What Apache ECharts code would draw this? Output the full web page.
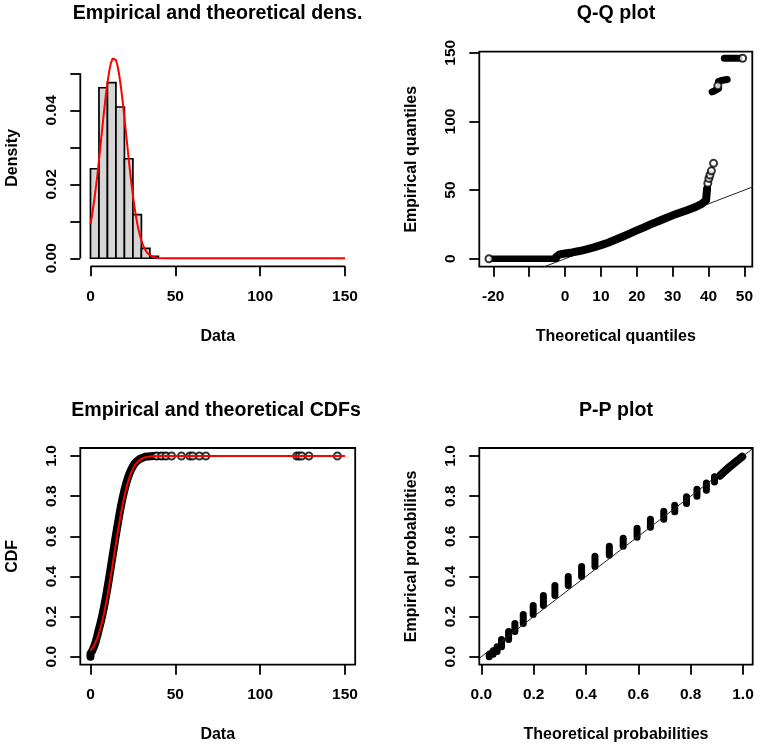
<!DOCTYPE html>
<html><head><meta charset="utf-8">
<script src="https://cdn.jsdelivr.net/npm/echarts@6/dist/echarts.min.js"></script>
<style>html,body{margin:0;padding:0;background:#fff;}#c{width:760px;height:750px;}</style>
</head><body><div id="c"></div>
<script>
// ---------- Panel 1: histogram + fitted density ----------
const histBreaks  = [0, 5, 10, 15, 20, 25, 30, 35, 40];
const histDensity = [0.0242, 0.0461, 0.0475, 0.0409, 0.0269, 0.0118, 0.0027, 0.0005];
const densX = [0,1,2,3,4,5,6,7,8,9,10,11,12,13,14,15,16,17,18,19,20,21,22,23,24,25,26,27,28,29,30,31,32,33,34,35,36,38,40,45,150];
const densY = [0.0092,0.0119,0.0150,0.0185,0.0223,0.0265,0.0309,0.0354,0.0398,0.0439,0.0475,0.0505,0.0527,0.0540,0.0543,0.0536,0.0519,0.0494,0.0461,0.0423,0.0380,0.0336,0.0291,0.0248,0.0207,0.0170,0.0137,0.0108,0.0084,0.0064,0.0048,0.0035,0.0025,0.0018,0.0012,0.0009,0.0006,0.0002,0.0001,0.0000,0.0000];
const p1XTicks = [0, 50, 100, 150];
const p1YTicks = [0, 0.01, 0.02, 0.03, 0.04, 0.05];
const p1YLabels = [0, 0.02, 0.04];

// ---------- Panel 2: Q-Q plot ----------
const qqZeroT = [-20.2, -2.4];
const qqZeroQ = [0, 0];
const qqRiseT = [-2.4,-1.5,0,2,4,6,8,10,12,14,16,18,20,22,24,26,28,30,32,34,36,38,39.3,39.6];
const qqRiseQ = [1.5,3.2,3.8,4.6,5.6,6.9,8.3,9.9,11.7,13.8,16.0,18.3,20.6,22.8,25.2,27.3,29.5,31.6,33.5,35.3,37.3,39.8,42.5,51];
const qq122T = [41.0, 41.6, 42.2, 42.8];
const qq122Q = [121.5, 122.2, 123.0, 124.0];
const qq130T = [42.8, 43.6, 44.4, 45.2];
const qq130Q = [129.0, 129.8, 130.2, 130.5];
const qqTopT = [44.4, 48.5];
const qqTopQ = [146, 146];
const qqOpenT = [-21.2, 39.8, 40.1, 40.4, 40.8, 41.4, 42.6, 49.5];
const qqOpenQ = [0, 55, 58.5, 61, 64, 69.5, 126, 146];
const qqRefT = [-30, 160];
const qqRefQ = [-30, 160];
const p2XTicks = [-20,-10,0,10,20,30,40,50];
const p2XLabels = [-20,0,10,20,30,40,50];
const p2YTicks = [0,50,100,150];

// ---------- Panel 3: CDFs ----------
const cdfEmpX = [0,0,1,2,3,4,5,6,7,8,9,10,11,12,13,14,15,16,17,18,19,20,21,22,23,24,25,26,27,28,29,30,32,34,37,40,44];
const cdfEmpY = [0.000,0.015,0.028,0.048,0.072,0.103,0.138,0.170,0.207,0.248,0.293,0.342,0.393,0.446,0.500,0.554,0.607,0.658,0.707,0.752,0.793,0.830,0.862,0.890,0.913,0.933,0.949,0.962,0.972,0.979,0.985,0.990,0.996,0.998,1.000,1.000,1.000];
const cdfOutX = [39, 41.9, 44.5, 47.8, 53.6, 58.5, 60.2, 64.2, 68, 121.5, 123, 124.5, 128.7, 145.5];
const cdfOutY = [1,1,1,1,1,1,1,1,1,1,1,1,1,1];
const cdfFitX = [0,2,4,6,8,10,12,14,16,18,20,22,24,26,28,30,32,34,36,40,150];
const cdfFitY = [0.030,0.054,0.091,0.144,0.215,0.303,0.403,0.511,0.618,0.716,0.801,0.868,0.917,0.952,0.973,0.986,0.993,0.997,0.999,1.000,1.000];
const p3XTicks = [0,50,100,150];
const p3YTicks = [0,0.2,0.4,0.6,0.8,1.0];

// ---------- Panel 4: P-P plot ----------
const ppTheo = [0.030,0.045,0.060,0.077,0.104,0.128,0.160,0.198,0.237,0.281,0.332,0.383,0.434,0.489,0.542,0.595,0.646,0.697,0.739,0.784,0.824,0.860,0.891];
const ppLow  = [0.000,0.012,0.026,0.050,0.085,0.125,0.165,0.210,0.255,0.305,0.355,0.400,0.450,0.505,0.550,0.595,0.645,0.685,0.722,0.763,0.800,0.830,0.870];
const ppHigh = [0.012,0.030,0.050,0.085,0.125,0.165,0.210,0.255,0.305,0.355,0.400,0.450,0.500,0.550,0.590,0.640,0.685,0.725,0.755,0.797,0.835,0.865,0.897];
const ppTailTheo = [0.912,0.930,0.950,0.970,0.985,0.997];
const ppTailEmp  = [0.902,0.925,0.947,0.968,0.984,0.997];
const ppRefT = [-0.1, 1.1];
const ppRefE = [-0.1, 1.1];
const p4XTicks = [0,0.2,0.4,0.6,0.8,1.0];
const p4YTicks = [0,0.2,0.4,0.6,0.8,1.0];

// ---------- styling ----------
const FONT = "'Liberation Sans', Arial, sans-serif";
const zip = (a, b) => a.map((v, i) => [v, b[i]]);
const txt = (size, bold) => ({color:'#000', fontFamily:FONT, fontSize:size, fontWeight: bold ? 'bold' : 'normal'});
const LW = 1.8;

function axis(gridIndex, min, max, ticks, labels, fmt, name, nameGap, isY) {
  return {
    type:'value', gridIndex, min, max,
    axisLine:{show:false, onZero:false},
    splitLine:{show:false},
    axisTick:{show:true, length:10, inside:false, customValues:ticks, lineStyle:{color:'#000', width:LW}},
    axisLabel:{show:true, customValues:labels, formatter:fmt, margin:isY ? 21 : 22, rotate: isY ? 90 : 0, ...txt(15.5, true)},
    name, nameLocation:'middle', nameGap, nameTextStyle: txt(16, true)
  };
}
const f0 = v => String(v);
const f1 = v => Number(v).toFixed(1);
const f2 = v => Number(v).toFixed(2);

const Y1MIN = -0.00217, Y1MAX = 0.05647, X1MIN = -6, X1MAX = 156;
const boxGrid = (left, top, width, height) => ({left, top, width, height, show:true, borderColor:'#000', borderWidth:LW, backgroundColor:'transparent', containLabel:false, outerBoundsMode:'none'});

const chart = echarts.init(document.getElementById('c'), null, {renderer:'canvas'});
chart.setOption({
  animation:false,
  backgroundColor:'#fff',
  title:[
    {text:'Empirical and theoretical dens.', left:217.5, top:3.5, textAlign:'center', padding:0, textStyle:txt(19.6, true)},
    {text:'Q-Q plot', left:616, top:3.5, textAlign:'center', padding:0, textStyle:txt(19.6, true)},
    {text:'Empirical and theoretical CDFs', left:216, top:401, textAlign:'center', padding:0, textStyle:txt(19.6, true)},
    {text:'P-P plot', left:616, top:401, textAlign:'center', padding:0, textStyle:txt(19.6, true)}
  ],
  grid:[
    {left:80.3, top:49.4, width:274.9, height:216.9, show:false, containLabel:false, outerBoundsMode:'none'},
    boxGrid(479.3, 51.7, 273, 215),
    boxGrid(80.3, 448, 274.9, 216.7),
    boxGrid(479.3, 448, 273.4, 216.7)
  ],
  xAxis:[
    axis(0, X1MIN, X1MAX, p1XTicks, p1XTicks, f0, 'Data', 62, false),
    axis(1, -23.9, 52.2, p2XTicks, p2XLabels, f0, 'Theoretical quantiles', 62, false),
    axis(2, X1MIN, X1MAX, p3XTicks, p3XTicks, f0, 'Data', 62, false),
    axis(3, -0.008, 1.037, p4XTicks, p4XTicks, f1, 'Theoretical probabilities', 62, false)
  ],
  yAxis:[
    axis(0, Y1MIN, Y1MAX, p1YTicks, p1YLabels, f2, 'Density', 60, true),
    axis(1, -5.8, 150.8, p2YTicks, p2YTicks, f0, 'Empirical quantiles', 60, true),
    axis(2, -0.04, 1.04, p3YTicks, p3YTicks, f1, 'CDF', 60, true),
    axis(3, -0.04, 1.04, p4YTicks, p4YTicks, f1, 'Empirical probabilities', 60, true)
  ],
  series:[
    // ---- panel 1 ----
    {type:'custom', xAxisIndex:0, yAxisIndex:0, silent:true, z:2,
     data: histDensity.map((d, i) => [histBreaks[i], histBreaks[i+1], d]),
     encode:{x:[0,1], y:2},
     renderItem:(params, api) => {
       const a = api.coord([api.value(0), api.value(2)]);
       const b = api.coord([api.value(1), 0]);
       return {type:'rect', shape:{x:a[0], y:a[1], width:b[0]-a[0], height:b[1]-a[1]},
               style:{fill:'#d6d6d6', stroke:'#000', lineWidth:1.7}};
     }},
    {type:'line', xAxisIndex:0, yAxisIndex:0, silent:true, z:4, symbol:'none', clip:false,
     data: zip(densX, densY), lineStyle:{color:'#ff0000', width:2}},
    {type:'line', xAxisIndex:0, yAxisIndex:0, silent:true, z:3, symbol:'none', clip:false,
     data: [[p1XTicks[0], Y1MIN], [p1XTicks[p1XTicks.length-1], Y1MIN]], lineStyle:{color:'#000', width:LW}},
    {type:'line', xAxisIndex:0, yAxisIndex:0, silent:true, z:3, symbol:'none', clip:false,
     data: [[X1MIN, p1YTicks[0]], [X1MIN, p1YTicks[p1YTicks.length-1]]], lineStyle:{color:'#000', width:LW}},

    // ---- panel 2 ----
    {type:'line', xAxisIndex:1, yAxisIndex:1, silent:true, z:2, symbol:'none', clip:true,
     data: zip(qqRefT, qqRefQ), lineStyle:{color:'#222', width:1}},
    {type:'line', xAxisIndex:1, yAxisIndex:1, silent:true, z:3, symbol:'none',
     data: zip(qqZeroT, qqZeroQ), lineStyle:{color:'#000', width:6.5, cap:'round', join:'round'}},
    {type:'line', xAxisIndex:1, yAxisIndex:1, silent:true, z:3, symbol:'none',
     data: zip(qqRiseT, qqRiseQ), lineStyle:{color:'#000', width:8, cap:'round', join:'round'}},
    {type:'line', xAxisIndex:1, yAxisIndex:1, silent:true, z:3, symbol:'none',
     data: zip(qq122T, qq122Q), lineStyle:{color:'#000', width:7, cap:'round', join:'round'}},
    {type:'line', xAxisIndex:1, yAxisIndex:1, silent:true, z:3, symbol:'none',
     data: zip(qq130T, qq130Q), lineStyle:{color:'#000', width:7, cap:'round', join:'round'}},
    {type:'line', xAxisIndex:1, yAxisIndex:1, silent:true, z:3, symbol:'none',
     data: zip(qqTopT, qqTopQ), lineStyle:{color:'#000', width:7, cap:'round', join:'round'}},
    {type:'scatter', xAxisIndex:1, yAxisIndex:1, silent:true, z:4, symbol:'emptyCircle', symbolSize:7,
     data: zip(qqOpenT, qqOpenQ), itemStyle:{color:'#000', borderColor:'#000', borderWidth:1.4}},

    // ---- panel 3 ----
    {type:'line', xAxisIndex:2, yAxisIndex:2, silent:true, z:3, symbol:'none',
     data: zip(cdfEmpX, cdfEmpY), lineStyle:{color:'#000', width:8, cap:'round', join:'round'}},
    {type:'scatter', xAxisIndex:2, yAxisIndex:2, silent:true, z:4, symbol:'emptyCircle', symbolSize:7,
     data: zip(cdfOutX, cdfOutY), itemStyle:{color:'#000', borderColor:'#000', borderWidth:1.4}},
    {type:'line', xAxisIndex:2, yAxisIndex:2, silent:true, z:5, symbol:'none',
     data: zip(cdfFitX, cdfFitY), lineStyle:{color:'#ff0000', width:2}},

    // ---- panel 4 ----
    {type:'custom', xAxisIndex:3, yAxisIndex:3, silent:true, z:3,
     data: ppTheo.map((p, i) => [p, ppLow[i], ppHigh[i]]),
     encode:{x:0, y:[1,2]},
     renderItem:(params, api) => {
       const a = api.coord([api.value(0), api.value(1)]);
       const b = api.coord([api.value(0), api.value(2)]);
       return {type:'line', shape:{x1:a[0], y1:a[1], x2:b[0], y2:b[1]},
               style:{stroke:'#000', lineWidth:7, lineCap:'round'}};
     }},
    {type:'line', xAxisIndex:3, yAxisIndex:3, silent:true, z:3, symbol:'none',
     data: zip(ppTailTheo, ppTailEmp), lineStyle:{color:'#000', width:8, cap:'round', join:'round'}},
    {type:'line', xAxisIndex:3, yAxisIndex:3, silent:true, z:4, symbol:'none', clip:true,
     data: zip(ppRefT, ppRefE), lineStyle:{color:'#222', width:1}}
  ]
});
</script></body></html>
